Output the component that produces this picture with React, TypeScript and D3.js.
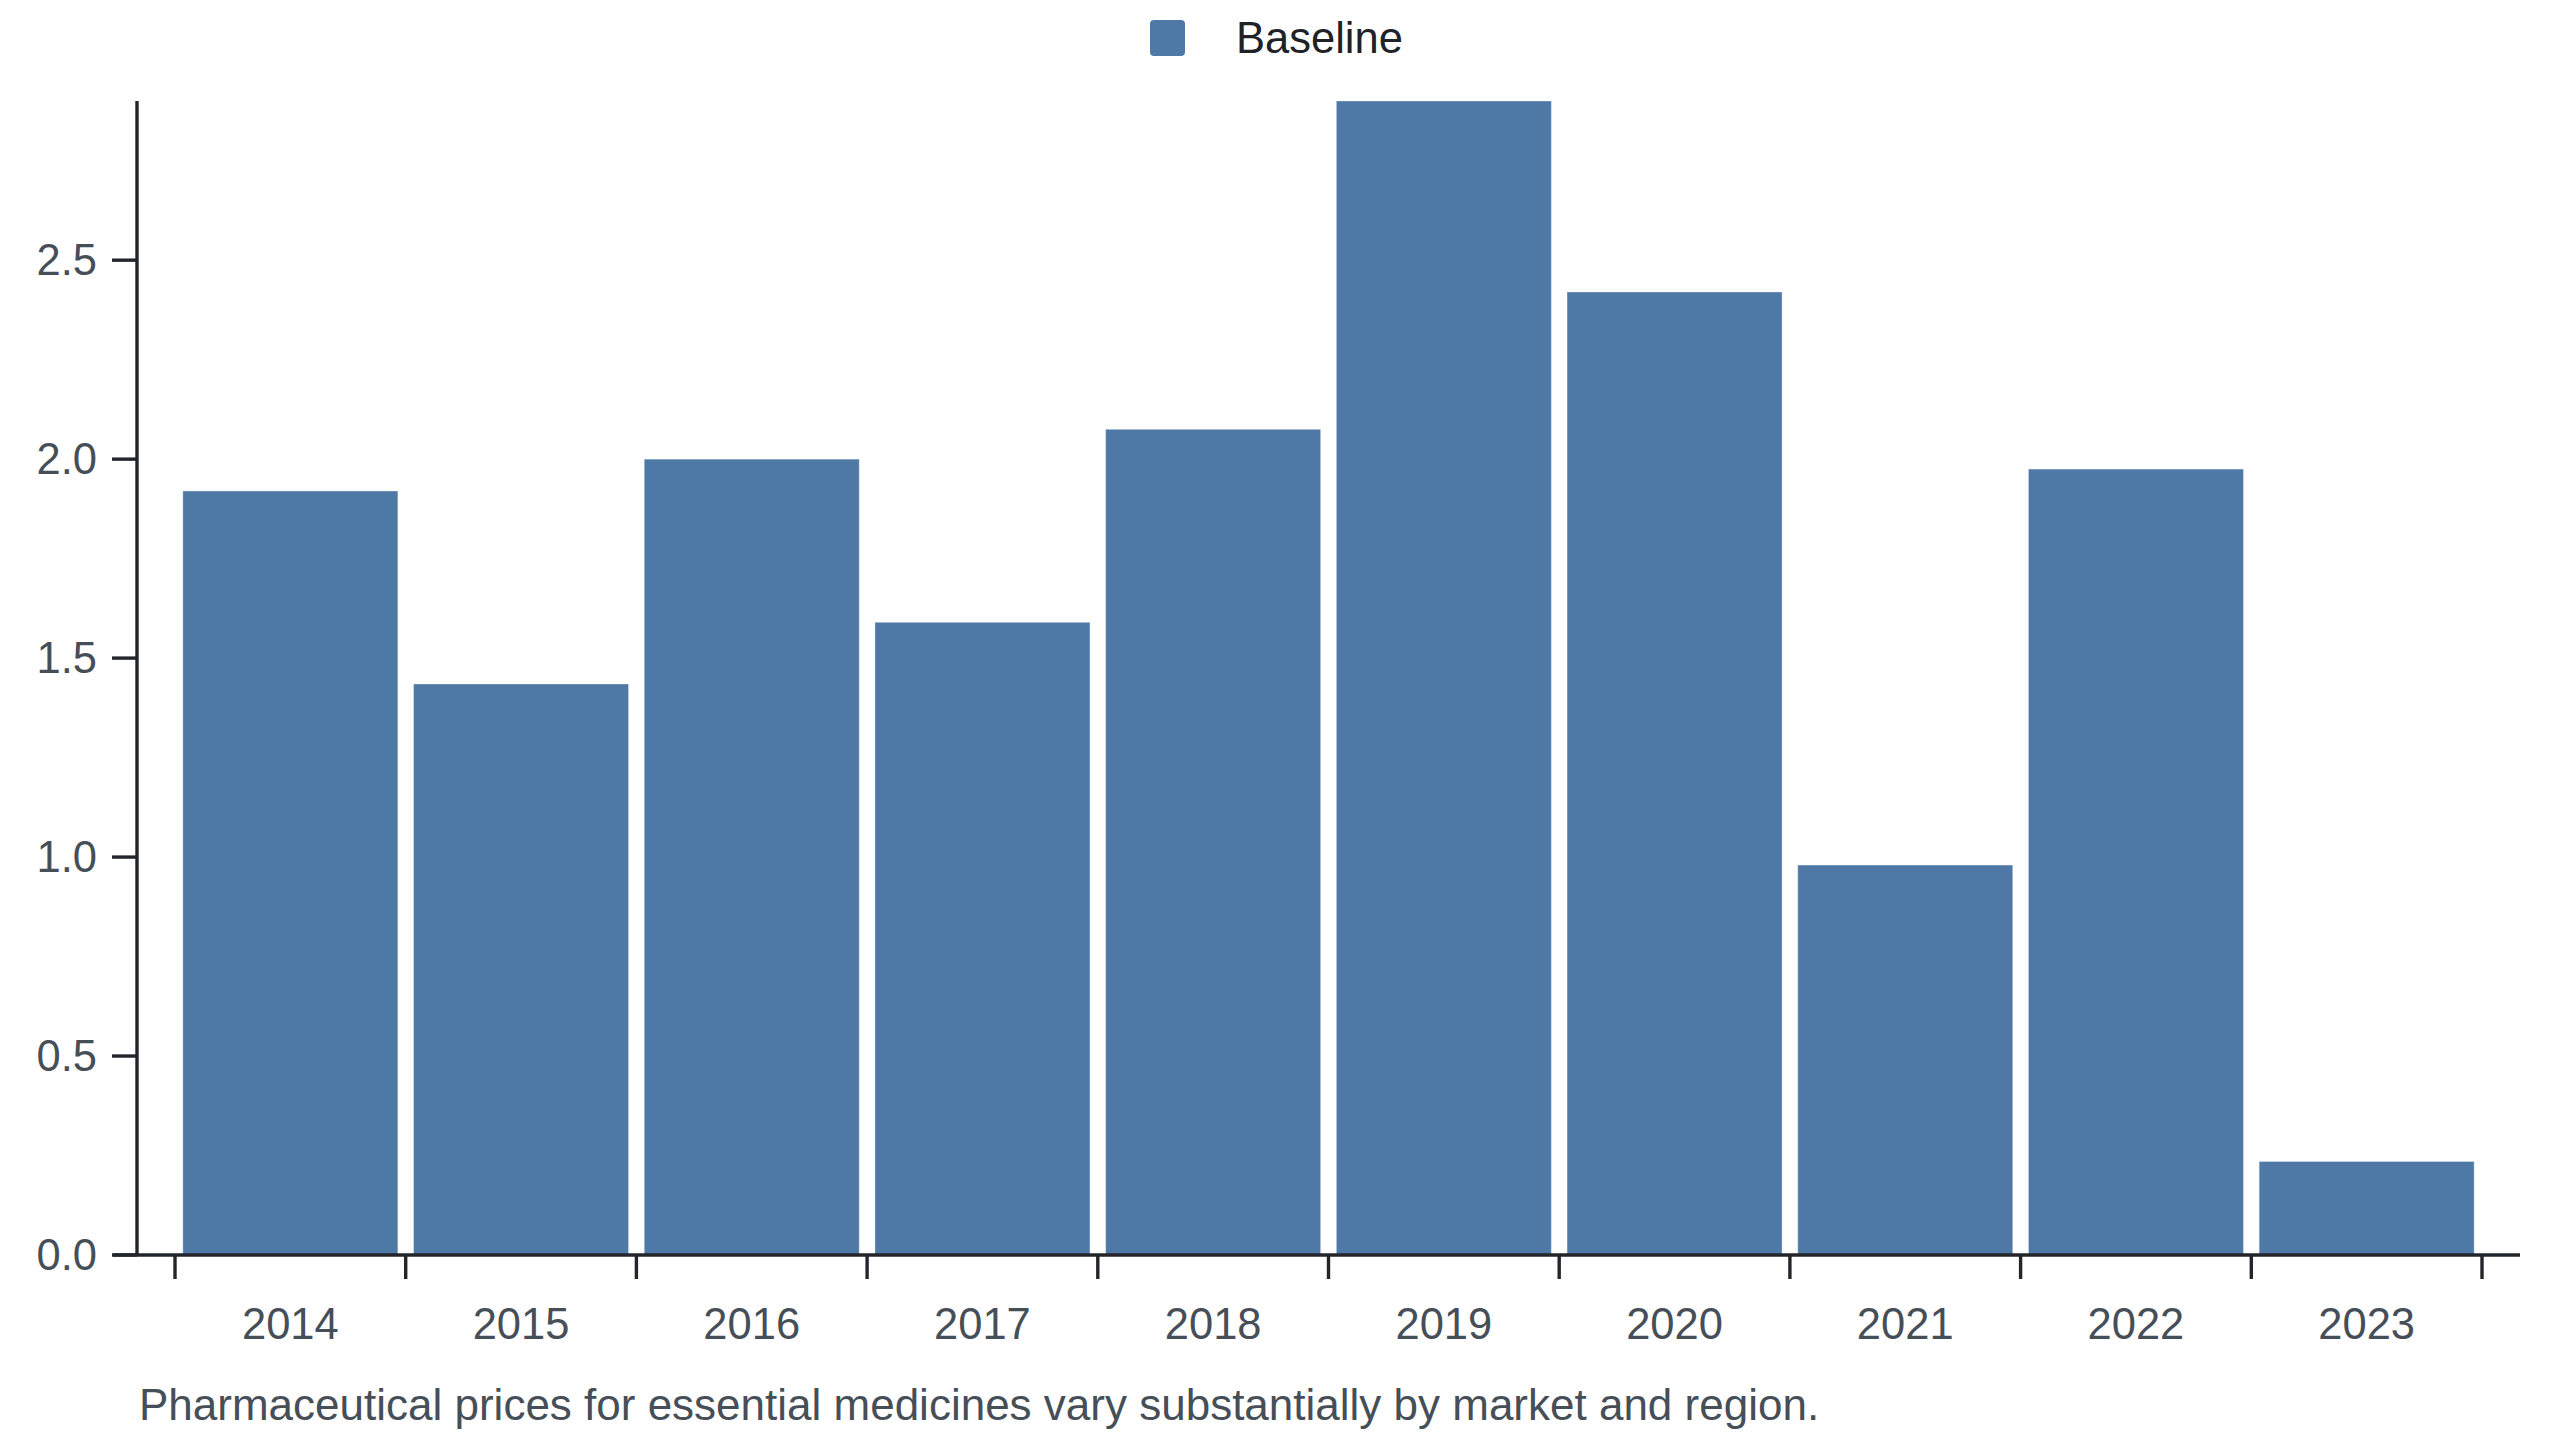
import React from "react";
import * as d3 from "d3";

const years = ["2014", "2015", "2016", "2017", "2018", "2019", "2020", "2021", "2022", "2023"];
const baselineValues = [1.92, 1.435, 2.0, 1.59, 2.075, 2.9, 2.42, 0.98, 1.975, 0.235];
const yTickValues = [0, 0.5, 1.0, 1.5, 2.0, 2.5];
const seriesName = "Baseline";
const caption = "Pharmaceutical prices for essential medicines vary substantially by market and region.";

const W = 2560;
const H = 1440;
const FONT = "'Liberation Sans', Arial, Helvetica, sans-serif";
const BAR = "#4e79a7";
const AXIS = "#23252a";
const LABEL = "#464e58";
const FS = 43.5;

export default function App() {
  const x = d3
    .scaleBand<string>()
    .domain(years)
    .range([175, 2482])
    .paddingInner(0.068)
    .paddingOuter(0.034);
  const y = d3
    .scaleLinear()
    .domain([0, d3.max(baselineValues) as number])
    .range([1255, 101]);

  const step = x.step();
  const tickXs = years.map((d) => (x(d) as number) - (step * 0.068) / 2);
  tickXs.push(tickXs[tickXs.length - 1] + step);

  const fmt = d3.format(".1f");
  const y0 = y(0);

  return (
    <div style={{ position: "fixed", left: 0, top: 0, width: W, height: H, background: "#fff" }}>
      <svg width={W} height={H} style={{ display: "block" }} fontFamily={FONT}>
        {/* legend */}
        <rect x={1150} y={20} width={35} height={36} rx={4} fill={BAR} />
        <text x={1236} y={53} fontSize={FS} fill="#1f2226">
          {seriesName}
        </text>

        {/* bars */}
        {years.map((d, i) => (
          <rect
            key={d}
            x={x(d)}
            y={y(baselineValues[i])}
            width={x.bandwidth()}
            height={y0 - y(baselineValues[i])}
            fill={BAR}
            stroke="rgba(255,255,255,0.35)"
            strokeWidth={1}
          />
        ))}

        {/* y axis */}
        <line x1={137} x2={137} y1={101} y2={y0} stroke={AXIS} strokeWidth={3.4} />
        {yTickValues.map((v) => (
          <g key={v}>
            <line x1={112} x2={137} y1={y(v)} y2={y(v)} stroke={AXIS} strokeWidth={3.4} />
            <text
              x={97}
              y={y(v)}
              dy="0.35em"
              textAnchor="end"
              fontSize={FS}
              fill={LABEL}
            >
              {fmt(v)}
            </text>
          </g>
        ))}

        {/* x axis */}
        <line x1={113} x2={2520} y1={y0} y2={y0} stroke={AXIS} strokeWidth={3.4} />
        {tickXs.map((tx, i) => (
          <line key={i} x1={tx} x2={tx} y1={y0} y2={y0 + 24} stroke={AXIS} strokeWidth={3.4} />
        ))}
        {years.map((d) => (
          <text
            key={d}
            x={(x(d) as number) + x.bandwidth() / 2}
            y={1339}
            textAnchor="middle"
            fontSize={FS}
            fill={LABEL}
          >
            {d}
          </text>
        ))}

        {/* caption */}
        <text x={139} y={1420} fontSize={44} fill={LABEL}>
          {caption}
        </text>
      </svg>
    </div>
  );
}
